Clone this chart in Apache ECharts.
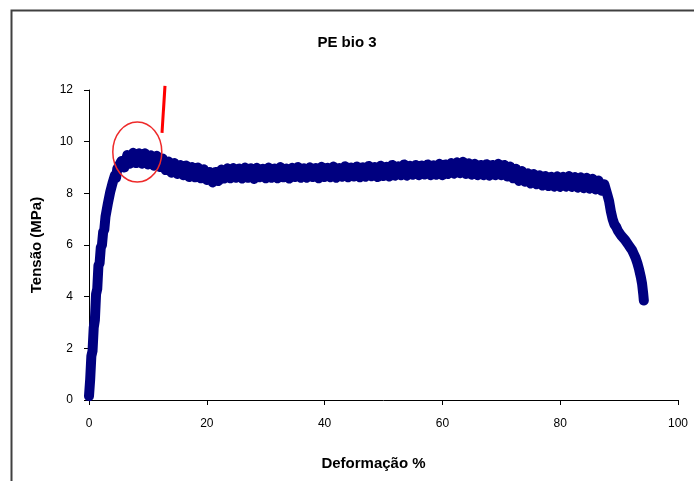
<!DOCTYPE html>
<html>
<head>
<meta charset="utf-8">
<title>PE bio 3</title>
<script src="https://cdn.jsdelivr.net/npm/echarts@6/dist/echarts.min.js"></script>
<style>
  html, body { margin: 0; padding: 0; background: #ffffff; }
  #chart { width: 694px; height: 481px; }
</style>
</head>
<body>
<div id="chart"></div>
<script>
// Tensile test, sample PE bio 3: strain (%) vs. stress (MPa)
const strain = [
  0, 0.2, 0.4, 0.6, 0.8, 1.0, 1.2, 1.4, 1.6, 1.8, 2.0, 2.2, 2.4, 2.6, 2.8,
  3.0, 3.2, 3.4, 3.6, 3.8, 4.0, 4.2, 4.4, 4.6, 4.8, 5.0,
  5.5, 6.0, 6.5, 7.0, 7.5, 8.0, 8.5, 9.0, 9.5, 10.0, 10.5, 11.0, 11.5, 12.0,
  12.5, 13.0, 13.5, 14.0, 14.5, 15.0, 15.5, 16.0, 16.5, 17.0, 17.5, 18.0,
  18.5, 19.0, 19.5, 20.0, 20.5, 21.0, 21.5, 22.0, 22.5, 23.0, 23.5, 24.0,
  24.5, 25.0, 25.5, 26.0, 26.5, 27.0, 27.5, 28.0, 28.5, 29.0, 29.5, 30.0,
  30.5, 31.0, 31.5, 32.0, 32.5, 33.0, 33.5, 34.0, 34.5, 35.0, 35.5, 36.0,
  36.5, 37.0, 37.5, 38.0, 38.5, 39.0, 39.5, 40.0, 40.5, 41.0, 41.5, 42.0,
  42.5, 43.0, 43.5, 44.0, 44.5, 45.0, 45.5, 46.0, 46.5, 47.0, 47.5, 48.0,
  48.5, 49.0, 49.5, 50.0, 50.5, 51.0, 51.5, 52.0, 52.5, 53.0, 53.5, 54.0,
  54.5, 55.0, 55.5, 56.0, 56.5, 57.0, 57.5, 58.0, 58.5, 59.0, 59.5, 60.0,
  60.5, 61.0, 61.5, 62.0, 62.5, 63.0, 63.5, 64.0, 64.5, 65.0, 65.5, 66.0,
  66.5, 67.0, 67.5, 68.0, 68.5, 69.0, 69.5, 70.0, 70.5, 71.0, 71.5, 72.0,
  72.5, 73.0, 73.5, 74.0, 74.5, 75.0, 75.5, 76.0, 76.5, 77.0, 77.5, 78.0,
  78.5, 79.0, 79.5, 80.0, 80.5, 81.0, 81.5, 82.0, 82.5, 83.0, 83.5, 84.0,
  84.5, 85.0, 85.5, 86.0, 86.5, 87.0, 87.5, 88.0,
  88.3, 88.6, 88.9, 89.2, 89.5, 89.8, 90.1, 90.4, 90.7, 91.0, 91.3, 91.6,
  91.9, 92.2, 92.5, 92.8, 93.1, 93.4, 93.7, 93.9, 94.1, 94.2
];

const stress = [
  0.15, 0.8, 1.7, 1.9, 2.8, 3.1, 4.1, 4.3, 5.2, 5.3, 5.9, 6.0, 6.5, 6.6, 7.1,
  7.1, 7.6, 7.6, 8.05, 8.0, 8.4, 8.4, 8.7, 8.6, 8.95, 8.9,
  9.25, 9.0, 9.48, 9.15, 9.57, 9.17, 9.55, 9.15, 9.55, 9.12, 9.47, 9.07, 9.45, 9.02,
  9.35, 8.9, 9.23, 8.8, 9.17, 8.75, 9.1, 8.7, 9.08, 8.63, 9.02, 8.62,
  9.0, 8.58, 8.93, 8.52, 8.83, 8.42, 8.83, 8.48, 8.92, 8.57, 8.97, 8.58,
  8.98, 8.6, 8.96, 8.57, 9.0, 8.6, 8.97, 8.56, 8.99, 8.62, 8.95, 8.58,
  9.0, 8.6, 8.96, 8.58, 9.02, 8.62, 8.96, 8.57, 8.99, 8.63, 9.02, 8.6,
  8.97, 8.6, 9.01, 8.63, 8.98, 8.58, 9.03, 8.63, 8.99, 8.62, 9.04, 8.6,
  8.98, 8.64, 9.05, 8.62, 9.0, 8.65, 9.04, 8.62, 9.01, 8.64, 9.06, 8.66,
  9.02, 8.63, 9.07, 8.67, 9.03, 8.65, 9.1, 8.68, 9.05, 8.7, 9.12, 8.68,
  9.07, 8.72, 9.1, 8.7, 9.08, 8.73, 9.12, 8.7, 9.09, 8.72, 9.14, 8.7,
  9.12, 8.75, 9.17, 8.76, 9.2, 8.78, 9.22, 8.75, 9.16, 8.72, 9.14, 8.7,
  9.1, 8.7, 9.13, 8.68, 9.1, 8.7, 9.14, 8.7, 9.1, 8.65, 9.04, 8.58,
  8.95, 8.48, 8.86, 8.45, 8.78, 8.38, 8.75, 8.35, 8.7, 8.3, 8.67, 8.28,
  8.64, 8.26, 8.66, 8.25, 8.64, 8.26, 8.67, 8.25, 8.63, 8.22, 8.62, 8.2,
  8.6, 8.18, 8.56, 8.15, 8.5, 8.1, 8.35, 7.95,
  7.7, 7.3, 7.0, 6.8, 6.7, 6.55, 6.5, 6.35, 6.3, 6.2, 6.15, 6.0,
  5.9, 5.8, 5.65, 5.5, 5.3, 5.05, 4.75, 4.5, 4.1, 3.85
];

// Axis ranges and tick spacing
const strainTicks = { min: 0, max: 100, step: 20 };
const stressTicks = { min: 0, max: 12, step: 2 };

// Hand-drawn highlight around the yield peak (data coordinates)
const yieldMark = { strain: 8.2, stress: 9.6 };
const pointerStart = { strain: 12.9, stress: 12.16 };
const pointerEnd = { strain: 12.4, stress: 10.34 };

const FONT = '"Liberation Sans", Arial, Helvetica, sans-serif';
const points = strain.map((x, i) => [x, stress[i]]);

const chart = echarts.init(document.getElementById('chart'), null, { renderer: 'canvas' });

chart.setOption({
  animation: false,
  backgroundColor: '#ffffff',
  title: {
    text: 'PE bio 3',
    left: 'center',
    top: 30,
    textStyle: { fontFamily: FONT, fontSize: 15, fontWeight: 'bold', color: '#000000' }
  },
  grid: { left: 89, right: 16, top: 90, bottom: 81, containLabel: false },
  xAxis: {
    type: 'value',
    min: strainTicks.min,
    max: strainTicks.max,
    interval: strainTicks.step,
    name: 'Deformação %',
    nameLocation: 'middle',
    nameGap: 56,
    nameTextStyle: { fontFamily: FONT, fontSize: 15, fontWeight: 'bold', color: '#000000', padding: [0, 20, 0, 0] },
    axisLine: { show: true, lineStyle: { color: '#000000', width: 1 } },
    axisTick: { show: true, inside: false, length: 5, lineStyle: { color: '#000000' } },
    axisLabel: { margin: 18, fontFamily: FONT, fontSize: 12, color: '#000000' },
    splitLine: { show: false }
  },
  yAxis: {
    type: 'value',
    min: stressTicks.min,
    max: stressTicks.max,
    interval: stressTicks.step,
    name: 'Tensão (MPa)',
    nameLocation: 'middle',
    nameGap: 45,
    nameTextStyle: { fontFamily: FONT, fontSize: 15, fontWeight: 'bold', color: '#000000' },
    axisLine: { show: true, lineStyle: { color: '#000000', width: 1 } },
    axisTick: { show: true, inside: false, length: 5, lineStyle: { color: '#000000' } },
    axisLabel: { margin: 16, fontFamily: FONT, fontSize: 12, color: '#000000' },
    splitLine: { show: false }
  },
  series: [{
    type: 'line',
    data: points,
    showSymbol: false,
    symbol: 'none',
    lineStyle: { color: '#000080', width: 10, join: 'round', cap: 'round' },
    clip: false,
    z: 2
  }]
});

// Frame and annotation overlay
const c = chart.convertToPixel({ gridIndex: 0 }, [yieldMark.strain, yieldMark.stress]);
const p1 = chart.convertToPixel({ gridIndex: 0 }, [pointerStart.strain, pointerStart.stress]);
const p2 = chart.convertToPixel({ gridIndex: 0 }, [pointerEnd.strain, pointerEnd.stress]);

chart.setOption({
  graphic: [
    {
      type: 'rect',
      left: 9, top: 8,
      shape: { width: 720, height: 520 },
      style: { fill: 'none', stroke: '#404040', lineWidth: 2 },
      silent: true,
      z: 0
    },
    {
      type: 'ellipse',
      shape: { cx: c[0], cy: c[1], rx: 24.5, ry: 30 },
      style: { fill: 'none', stroke: '#ee2a2a', lineWidth: 1.5 },
      silent: true,
      z: 10
    },
    {
      type: 'line',
      shape: { x1: p1[0], y1: p1[1], x2: p2[0], y2: p2[1] },
      style: { stroke: '#ff0000', lineWidth: 3 },
      silent: true,
      z: 10
    }
  ]
});
</script>
</body>
</html>
